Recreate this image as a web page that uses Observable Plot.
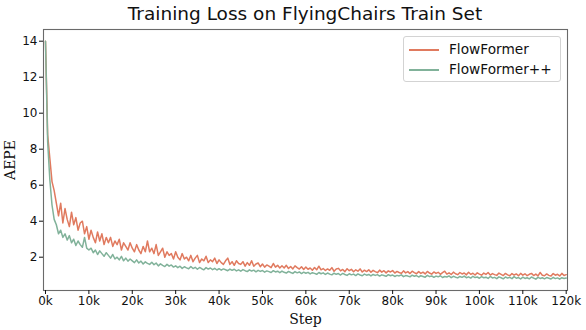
<!DOCTYPE html>
<html><head><meta charset="utf-8">
<script src="https://cdn.jsdelivr.net/npm/d3@7"></script>
<script src="https://cdn.jsdelivr.net/npm/@observablehq/plot@0.6"></script>
<style>
body{margin:0;background:#fff;}
#wrap{position:relative;width:586px;height:330px;font-family:"DejaVu Sans",sans-serif;color:#111;}
#title{height:24px;width:610px;text-align:center;font-size:18.5px;line-height:24px;position:relative;top:2px;white-space:nowrap;}
#legend{position:absolute;left:403px;top:36px;width:156px;height:44px;border:1px solid #d3d3d3;border-radius:3px;background:rgba(255,255,255,0.85);}
.li{position:absolute;left:0;height:20px;font-size:13.7px;line-height:20px;}
.sw{position:absolute;left:5px;top:10px;width:30px;height:2px;}
.lt{position:absolute;left:45px;top:0;white-space:nowrap;}
svg [aria-label="x-axis label"], svg [aria-label="y-axis label"]{font-family:"DejaVu Serif",serif;font-size:14px;}
</style>
</head><body>
<div id="wrap">
<div id="title">Training Loss on FlyingChairs Train Set</div>
<div id="chart"></div>
<div id="legend"></div>
</div>
<script>
const titleText = "Training Loss on FlyingChairs Train Set";
const seriesNames = ["FlowFormer", "FlowFormer++"];
const seriesColors = ["#e07a5f", "#81b29a"];
const stepInterval = 500;
const xTicks = [0,10000,20000,30000,40000,50000,60000,70000,80000,90000,100000,110000,120000];
const yTicks = [2,4,6,8,10,12,14];

const flowFormer = [
14.0, 8.8, 7.5, 6.2, 5.7, 5.0, 4.3, 5.0, 3.9, 4.7,
4.1, 3.7, 4.5, 3.8, 4.2, 3.5, 3.9, 4.0, 3.3, 3.7,
3.0, 3.5, 3.1, 2.8, 3.4, 2.9, 3.3, 2.7, 3.1, 2.8,
3.1, 2.6, 2.9, 2.7, 3.0, 2.4, 2.8, 2.6, 2.4, 2.8,
2.5, 2.3, 2.7, 2.4, 2.2, 2.6, 2.3, 2.9, 2.3, 2.5,
2.2, 2.7, 2.1, 2.3, 2.5, 2.0, 2.3, 2.1, 2.2, 1.9,
2.3, 2.0, 1.85, 2.2, 1.9, 2.0, 1.8, 2.1, 1.75, 1.95,
2.1, 1.7, 1.9, 1.8, 2.05, 1.7, 1.85, 1.75, 1.95, 1.65,
1.85, 1.7, 1.6, 1.8, 1.95, 1.6, 1.75, 1.55, 1.8, 1.65,
1.6, 1.75, 1.5, 1.7, 1.55, 1.8, 1.5, 1.62, 1.68, 1.47,
1.62, 1.45, 1.57, 1.5, 1.42, 1.65, 1.45, 1.55, 1.4, 1.52,
1.4, 1.55, 1.37, 1.48, 1.35, 1.52, 1.42, 1.34, 1.47, 1.32,
1.45, 1.33, 1.4, 1.28, 1.43, 1.3, 1.5, 1.3, 1.37, 1.26,
1.35, 1.27, 1.42, 1.22, 1.34, 1.38, 1.24, 1.32, 1.2, 1.36,
1.25, 1.33, 1.19, 1.3, 1.22, 1.35, 1.18, 1.28, 1.2, 1.3,
1.16, 1.27, 1.2, 1.14, 1.28, 1.17, 1.25, 1.13, 1.24, 1.18,
1.26, 1.12, 1.21, 1.15, 1.1, 1.24, 1.13, 1.2, 1.09, 1.22,
1.14, 1.08, 1.2, 1.1, 1.17, 1.07, 1.21, 1.12, 1.06, 1.18,
1.1, 1.16, 1.05, 1.14, 1.22, 1.06, 1.13, 1.04, 1.17, 1.08,
1.03, 1.15, 1.07, 1.12, 1.02, 1.16, 1.05, 1.11, 1.01, 1.13,
1.06, 1.0, 1.12, 1.04, 1.15, 1.01, 1.09, 1.03, 0.99, 1.12,
1.05, 0.98, 1.1, 1.02, 0.97, 1.09, 1.01, 1.07, 0.97, 1.1,
1.0, 1.08, 0.97, 1.05, 1.1, 0.98, 1.06, 0.96, 1.15, 1.0,
0.97, 1.07, 0.99, 0.95, 1.09, 1.0, 1.05, 0.96, 1.1, 0.98,
1.03
];

const flowFormerPP = [
14.0, 8.4, 6.3, 4.9, 4.1, 3.8, 3.3, 3.5, 3.1, 3.3,
2.95, 3.2, 2.8, 3.0, 2.65, 2.9, 2.7, 2.55, 3.1, 2.5,
2.4, 2.5, 2.25, 2.4, 2.15, 2.35, 2.2, 2.05, 2.25, 2.1,
1.95, 2.15, 1.9, 2.0, 1.85, 2.05, 1.8, 1.95, 1.78, 1.9,
1.8, 1.7, 1.85, 1.68, 1.78, 1.62, 1.74, 1.66, 1.6, 1.72,
1.58, 1.68, 1.52, 1.63, 1.55, 1.48, 1.6, 1.5, 1.57, 1.45,
1.52, 1.42, 1.5, 1.38, 1.47, 1.41, 1.36, 1.48, 1.37, 1.44,
1.33, 1.43, 1.36, 1.3, 1.42, 1.34, 1.4, 1.31, 1.38, 1.29,
1.36, 1.28, 1.35, 1.3, 1.25, 1.34, 1.27, 1.33, 1.24, 1.3,
1.22, 1.31, 1.25, 1.2, 1.3, 1.23, 1.28, 1.19, 1.27, 1.21,
1.26, 1.17, 1.24, 1.2, 1.15, 1.25, 1.18, 1.22, 1.14, 1.23,
1.16, 1.12, 1.21, 1.15, 1.1, 1.2, 1.13, 1.18, 1.09, 1.17,
1.11, 1.16, 1.07, 1.14, 1.1, 1.05, 1.15, 1.08, 1.13, 1.04,
1.12, 1.06, 1.02, 1.11, 1.05, 1.09, 1.01, 1.1, 1.04, 0.99,
1.08, 1.02, 1.06, 0.98, 1.07, 1.01, 0.97, 1.06, 1.0, 1.04,
0.96, 1.04, 0.99, 1.03, 0.95, 1.02, 0.98, 0.94, 1.03, 0.97,
1.01, 0.93, 0.99, 0.96, 1.02, 0.92, 0.98, 0.95, 0.91, 1.0,
0.94, 0.98, 0.9, 0.97, 0.93, 0.89, 0.99, 0.92, 0.96, 0.88,
0.95, 0.91, 0.97, 0.87, 0.93, 0.9, 0.96, 0.86, 0.94, 0.89,
0.85, 0.93, 0.88, 0.95, 0.86, 0.91, 0.84, 0.94, 0.87, 0.9,
0.83, 0.92, 0.86, 0.89, 0.82, 0.93, 0.85, 0.88, 0.81, 0.91,
0.86, 0.8, 0.9, 0.84, 0.88, 0.81, 0.92, 0.83, 0.87, 0.79,
0.89, 0.82, 0.86, 0.8, 0.9, 0.84, 0.78, 0.88, 0.82, 0.86,
0.8, 0.87, 0.83, 0.79, 0.88, 0.81, 0.85, 0.78, 0.86, 0.82,
0.84
];

const seriesValues = [flowFormer, flowFormerPP];
const data = seriesValues.flatMap((vals, s) =>
  vals.map((v, i) => ({series: seriesNames[s], step: i * stepInterval, value: v})));

const chart = Plot.plot({
  width: 586,
  height: 306,
  marginTop: 5,
  marginBottom: 40,
  marginLeft: 43,
  marginRight: 19,
  style: {fontFamily: "DejaVu Sans, sans-serif", fontSize: "12px", color: "#111", background: "#fff"},
  x: {domain: [-460, 120300]},
  y: {domain: [0.15, 14.65]},
  color: {domain: seriesNames, range: seriesColors},
  marks: [
    Plot.line(data, {x: "step", y: "value", stroke: "series", z: "series", strokeWidth: 1.5}),
    Plot.frame({stroke: "#6a6a6a", strokeWidth: 1.1}),
    Plot.axisX({ticks: xTicks, tickFormat: d => (d / 1000) + "k", tickSize: 4, tickPadding: 2,
      label: "Step", labelAnchor: "center", labelArrow: "none", labelOffset: 33}),
    Plot.axisY({ticks: yTicks, tickSize: 4, tickPadding: 2,
      label: "AEPE", labelAnchor: "center", labelArrow: "none", labelOffset: 38})
  ]
});
document.getElementById("chart").appendChild(chart);

const legend = document.getElementById("legend");
seriesNames.forEach((name, i) => {
  const item = document.createElement("div");
  item.className = "li";
  item.style.top = (2 + i * 20) + "px";
  item.style.width = "150px";
  const sw = document.createElement("div");
  sw.className = "sw";
  sw.style.backgroundColor = seriesColors[i];
  const t = document.createElement("div");
  t.className = "lt";
  t.textContent = name;
  item.appendChild(sw); item.appendChild(t);
  legend.appendChild(item);
});
</script>
</body></html>
